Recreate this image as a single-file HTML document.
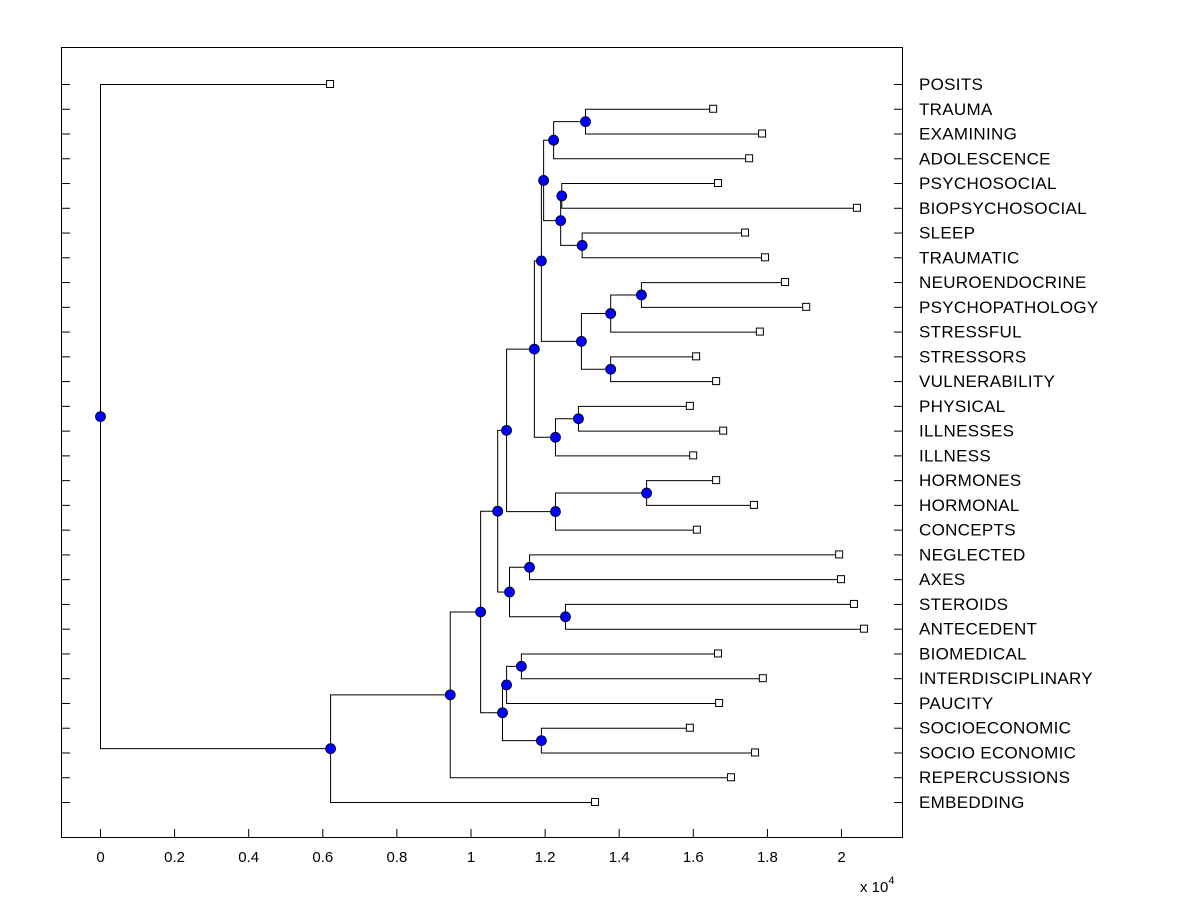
<!DOCTYPE html>
<html><head><meta charset="utf-8"><style>
body{margin:0;background:#fff;}
svg text{font-family:"Liberation Sans",Arial,sans-serif;}
</style></head><body>
<svg id="chart" width="1200" height="900" xmlns="http://www.w3.org/2000/svg">
<rect x="0" y="0" width="1200" height="900" fill="#fff"/>
<g id="marks"></g>
<rect x="61.5" y="47.5" width="841" height="790" fill="none" stroke="#000" stroke-width="1"/>
<g id="axes"></g>
<text x="860" y="892" font-size="15">x 10<tspan dy="-8" font-size="11">4</tspan></text>
</svg>
<script>
const leaves = ["POSITS","TRAUMA","EXAMINING","ADOLESCENCE","PSYCHOSOCIAL","BIOPSYCHOSOCIAL","SLEEP","TRAUMATIC","NEUROENDOCRINE","PSYCHOPATHOLOGY","STRESSFUL","STRESSORS","VULNERABILITY","PHYSICAL","ILLNESSES","ILLNESS","HORMONES","HORMONAL","CONCEPTS","NEGLECTED","AXES","STEROIDS","ANTECEDENT","BIOMEDICAL","INTERDISCIPLINARY","PAUCITY","SOCIOECONOMIC","SOCIO ECONOMIC","REPERCUSSIONS","EMBEDDING"];
const leafValues = [0.621,1.655,1.787,1.752,1.668,2.043,1.741,1.795,1.849,1.906,1.781,1.609,1.663,1.592,1.682,1.601,1.663,1.765,1.611,1.995,2.0,2.035,2.062,1.668,1.789,1.671,1.592,1.768,1.703,1.336];
const nodeNames = ["P","N","Q","QQ","O","L","T","R","S","M","J","U","K","H","V","I","F","W","X","G","D","AA","Y","Z","E","C","B","A","ROOT"];
const nodeLeft  = ["TRAUMA","P","PSYCHOSOCIAL","SLEEP","Q","N","NEUROENDOCRINE","T","STRESSORS","R","L","PHYSICAL","U","J","HORMONES","V","H","NEGLECTED","STEROIDS","W","F","BIOMEDICAL","AA","SOCIOECONOMIC","Y","D","C","B","POSITS"];
const nodeRight = ["EXAMINING","ADOLESCENCE","BIOPSYCHOSOCIAL","TRAUMATIC","QQ","O","PSYCHOPATHOLOGY","STRESSFUL","VULNERABILITY","S","M","ILLNESSES","ILLNESS","K","HORMONAL","CONCEPTS","I","AXES","ANTECEDENT","X","G","INTERDISCIPLINARY","PAUCITY","SOCIO ECONOMIC","Z","E","REPERCUSSIONS","EMBEDDING","A"];
const nodeHeights = [1.309,1.223,1.245,1.300,1.242,1.196,1.460,1.377,1.377,1.298,1.190,1.290,1.228,1.171,1.474,1.228,1.096,1.158,1.255,1.104,1.072,1.136,1.096,1.190,1.085,1.026,0.944,0.621,0.0];
const xTicks = [0,0.2,0.4,0.6,0.8,1,1.2,1.4,1.6,1.8,2];
const xTickLabels = ["0","0.2","0.4","0.6","0.8","1","1.2","1.4","1.6","1.8","2"];

const NS="http://www.w3.org/2000/svg";
const xScale = v => 100 + v*370.5;
const yScale = i => 84 + i*(718/29);
const marks=document.getElementById('marks'), axes=document.getElementById('axes');
function mk(tag, attrs, parent){const e=document.createElementNS(NS,tag);for(const k in attrs)e.setAttribute(k,attrs[k]);parent.appendChild(e);return e;}
const pos={};
leaves.forEach((n,i)=>{pos[n]={x:xScale(leafValues[i]),y:yScale(i),leaf:true};});
nodeNames.forEach((n,i)=>{
  const a=pos[nodeLeft[i]], b=pos[nodeRight[i]], x=xScale(nodeHeights[i]);
  pos[n]={x:x,y:(a.y+b.y)/2,leaf:false};
  const v=mk('line',{x1:x+0.5,x2:x+0.5,y1:a.y+0.5,y2:b.y+0.5,stroke:'#000','stroke-width':1},marks);
  
  
  [a,b].forEach(c=>{
    const h=mk('line',{x1:x,x2:c.x,y1:c.y+0.5,y2:c.y+0.5,stroke:'#000','stroke-width':1},marks);
    
    
  });
});
leaves.forEach((n,i)=>{
  const p=pos[n];
  const s=mk('rect',{x:p.x-3.5,y:p.y-3.5,width:7,height:7,fill:'#fff',stroke:'#000','stroke-width':1},marks);
  
  
  const t=mk('text',{x:919,y:p.y+6,'font-size':17,'letter-spacing':0.3},axes);
  t.textContent=n;
  
  
  const tl=mk('line',{x1:62,x2:70,y1:p.y+0.5,y2:p.y+0.5,stroke:'#000'},axes);
  
  
  const tr=mk('line',{x1:894,x2:902,y1:p.y+0.5,y2:p.y+0.5,stroke:'#000'},axes);
  
  
});
nodeNames.forEach((n)=>{
  const p=pos[n];
  const c=mk('circle',{cx:p.x+0.5,cy:p.y+0.5,r:5,fill:'#0000ff',stroke:'#000','stroke-width':0.8},marks);
  
  
});
xTicks.forEach((v,i)=>{
  const x=xScale(v);
  const l=mk('line',{x1:x+0.5,x2:x+0.5,y1:829,y2:838,stroke:'#000'},axes);
  
  
  const t=mk('text',{x:x+0.5,y:862,'font-size':15,'text-anchor':'middle'},axes);
  t.textContent=xTickLabels[i];
  
  
});
</script>
</body></html>
